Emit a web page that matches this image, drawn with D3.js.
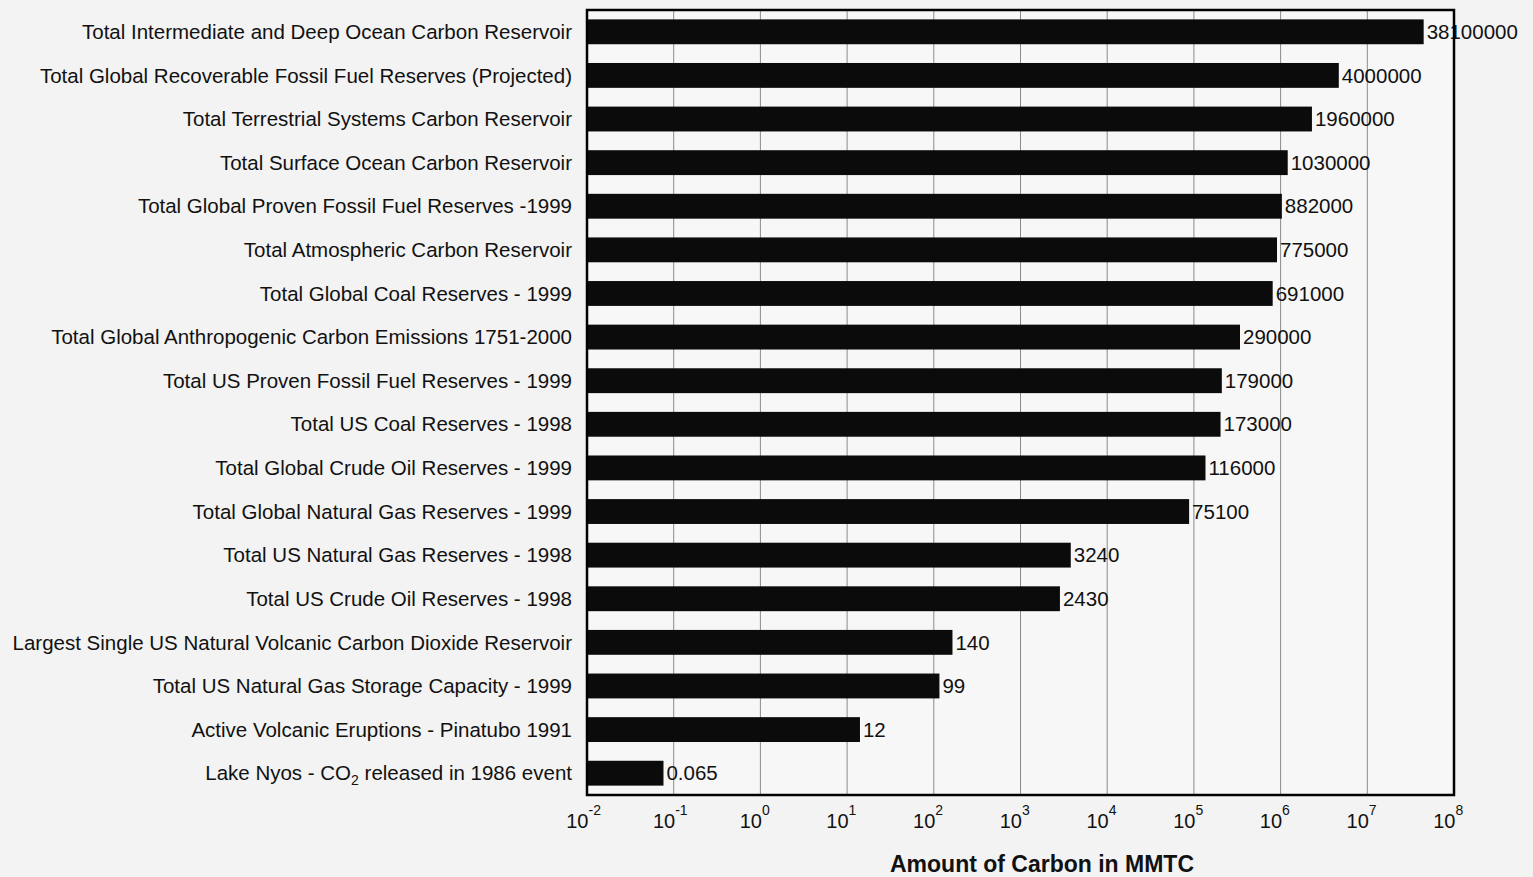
<!DOCTYPE html>
<meta charset="utf-8">
<style>
body { margin: 0; background: #f3f3f3; }
svg { display: block; }
</style>
<svg width="1533" height="877"></svg>
<script src="https://cdnjs.cloudflare.com/ajax/libs/d3/7.8.5/d3.min.js"></script>
<script>
var categories = [
  "Total Intermediate and Deep Ocean Carbon Reservoir",
  "Total Global Recoverable Fossil Fuel Reserves (Projected)",
  "Total Terrestrial Systems Carbon Reservoir",
  "Total Surface Ocean Carbon Reservoir",
  "Total Global Proven Fossil Fuel Reserves -1999",
  "Total Atmospheric Carbon Reservoir",
  "Total Global Coal Reserves - 1999",
  "Total Global Anthropogenic Carbon Emissions 1751-2000",
  "Total US Proven Fossil Fuel Reserves - 1999",
  "Total US Coal Reserves - 1998",
  "Total Global Crude Oil Reserves - 1999",
  "Total Global Natural Gas Reserves - 1999",
  "Total US Natural Gas Reserves - 1998",
  "Total US Crude Oil Reserves - 1998",
  "Largest Single US Natural Volcanic Carbon Dioxide Reservoir",
  "Total US Natural Gas Storage Capacity - 1999",
  "Active Volcanic Eruptions - Pinatubo 1991",
  "Lake Nyos - CO2 released in 1986 event"
]
var values = [38100000, 4000000, 1960000, 1030000, 882000, 775000, 691000, 290000,
  179000, 173000, 116000, 75100, 3240, 2430, 140, 99, 12, 0.065]
var tickValues = [1e-2, 1e-1, 1e0, 1e1, 1e2, 1e3, 1e4, 1e5, 1e6, 1e7, 1e8]
var axisTitle = "Amount of Carbon in MMTC"

var svg = d3.select('svg')
var margin = { left: 587, right: 79, top: 10, bottom: 82 }
var width = 1533, height = 877
var font = "Liberation Sans, Arial, sans-serif"

var x = d3.scaleLog()
  .domain([1e-2, 1e8])
  .range([margin.left, width - margin.right])

var y = d3.scaleBand()
  .domain(categories)
  .range([margin.top, height - margin.bottom])
  .paddingInner(0.43)
  .paddingOuter(0.215)

// plot background
svg.append('rect')
  .attr('x', margin.left).attr('y', margin.top)
  .attr('width', x.range()[1] - margin.left)
  .attr('height', height - margin.bottom - margin.top)
  .attr('fill', '#f7f7f7')

// grid lines
svg.append('g').selectAll('line')
  .data(tickValues.slice(1, -1))
  .join('line')
  .attr('x1', function (d) { return x(d) })
  .attr('x2', function (d) { return x(d) })
  .attr('y1', margin.top)
  .attr('y2', height - margin.bottom)
  .attr('stroke', '#8a8a8a')
  .attr('stroke-width', 1)

// bars
svg.append('g').selectAll('rect')
  .data(values)
  .join('rect')
  .attr('x', x(1e-2) + 1)
  .attr('y', function (d, i) { return y(categories[i]) })
  .attr('width', function (d) { return x(d) - x(1e-2) + 5 })
  .attr('height', y.bandwidth())
  .attr('fill', '#0b0b0b')

// value labels
svg.append('g').selectAll('text')
  .data(values)
  .join('text')
  .attr('x', function (d) { return x(d) + 9 })
  .attr('y', function (d, i) { return y(categories[i]) + y.bandwidth() / 2 })
  .attr('dy', '0.35em')
  .attr('font-family', font)
  .attr('font-size', 20.5)
  .attr('fill', '#111')
  .text(function (d) { return String(d) })

// category labels
var catText = svg.append('g').selectAll('text')
  .data(categories)
  .join('text')
  .attr('x', margin.left - 15)
  .attr('y', function (d) { return y(d) + y.bandwidth() / 2 })
  .attr('dy', '0.35em')
  .attr('text-anchor', 'end')
  .attr('font-family', font)
  .attr('font-size', 20.5)
  .attr('fill', '#111')

catText.each(function (d) {
  var t = d3.select(this)
  if (d.indexOf('CO2') >= 0) {
    var parts = d.split('CO2')
    t.append('tspan').text(parts[0] + 'CO')
    t.append('tspan').attr('baseline-shift', '-35%').attr('font-size', 14).text('2')
    t.append('tspan').text(parts[1])
  } else {
    t.text(d)
  }
})

// x axis with superscript tick labels
var xAxis = svg.append('g')
  .attr('transform', 'translate(0,' + (height - margin.bottom) + ')')
  .call(d3.axisBottom(x).tickValues(tickValues).tickSize(0).tickFormat(''))
xAxis.select('.domain').remove()

xAxis.selectAll('.tick').each(function (d) {
  var g = d3.select(this)
  g.append('text')
    .attr('x', 1).attr('y', 33)
    .attr('text-anchor', 'end')
    .attr('font-family', font).attr('font-size', 20).attr('fill', '#111')
    .text('10')
  g.append('text')
    .attr('x', 1).attr('y', 20)
    .attr('text-anchor', 'start')
    .attr('font-family', font).attr('font-size', 14).attr('fill', '#111')
    .text(Math.round(Math.log10(d)))
})

// frame
svg.append('rect')
  .attr('x', margin.left).attr('y', margin.top)
  .attr('width', x.range()[1] - margin.left)
  .attr('height', height - margin.bottom - margin.top)
  .attr('fill', 'none')
  .attr('stroke', '#000')
  .attr('stroke-width', 2.5)

// axis title
svg.append('text')
  .attr('x', 1042).attr('y', 872)
  .attr('text-anchor', 'middle')
  .attr('font-family', font)
  .attr('font-weight', 'bold')
  .attr('font-size', 23)
  .attr('fill', '#111')
  .text(axisTitle)
</script>
